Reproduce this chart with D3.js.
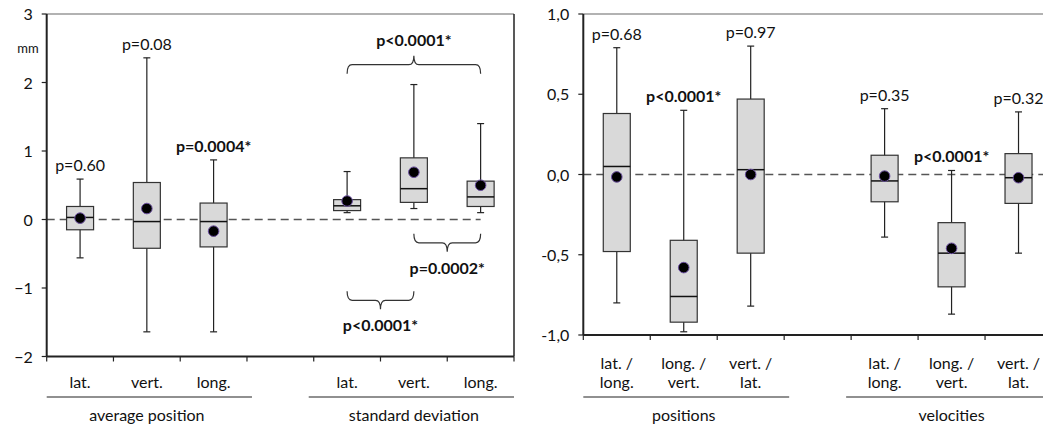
<!DOCTYPE html>
<html>
<head>
<meta charset="utf-8">
<script src="https://cdn.jsdelivr.net/npm/d3@7"></script>
<style>
  body { margin: 0; background: #fff; }
  text { font-family: Lato, "Open Sans", sans-serif; fill: #111; }
</style>
</head>
<body>
<svg width="1043" height="426"></svg>
<script>
// ---- left chart: average position / standard deviation (mm)
var leftCats   = ["lat.", "vert.", "long.", "lat.", "vert.", "long."];
var leftSlots  = [0, 1, 2, 4, 5, 6];
var leftHigh   = [0.59, 2.36, 0.87, 0.70, 1.97, 1.40];
var leftQ3     = [0.19, 0.54, 0.24, 0.29, 0.90, 0.56];
var leftMedian = [0.03, -0.03, -0.03, 0.20, 0.45, 0.33];
var leftQ1     = [-0.15, -0.42, -0.40, 0.13, 0.25, 0.19];
var leftLow    = [-0.56, -1.64, -1.64, 0.10, 0.16, 0.10];
var leftMean   = [0.02, 0.16, -0.17, 0.27, 0.69, 0.50];
var leftP      = ["p=0.60", "p=0.08", "p=0.0004*", "", "", ""];
var leftPBold  = [false, false, true, false, false, false];
var leftGroups = ["average position", "standard deviation"];
var leftTicks  = [-2, -1, 0, 1, 2, 3];

// comparison brackets between standard deviation boxes
var bracketFrom  = [4, 5, 4];
var bracketTo    = [6, 6, 5];
var bracketValue = [2.26, -0.34, -1.18];
var bracketDir   = ["up", "down", "down"];
var bracketLabel = ["p<0.0001*", "p=0.0002*", "p<0.0001*"];

// ---- right chart: correlations of positions / velocities
var rightCats   = [["lat. /", "long."], ["long. /", "vert."], ["vert. /", "lat."],
                   ["lat. /", "long."], ["long. /", "vert."], ["vert. /", "lat."]];
var rightSlots  = [0, 1, 2, 4, 5, 6];
var rightHigh   = [0.79, 0.40, 0.80, 0.41, 0.025, 0.39];
var rightQ3     = [0.38, -0.41, 0.47, 0.12, -0.30, 0.13];
var rightMedian = [0.05, -0.76, 0.03, -0.04, -0.49, -0.02];
var rightQ1     = [-0.48, -0.92, -0.49, -0.17, -0.70, -0.18];
var rightLow    = [-0.80, -0.98, -0.82, -0.39, -0.87, -0.49];
var rightMean   = [-0.015, -0.58, 0.0, -0.01, -0.46, -0.02];
var rightP      = ["p=0.68", "p<0.0001*", "p=0.97", "p=0.35", "p<0.0001*", "p=0.32"];
var rightPBold  = [false, true, false, false, true, false];
var rightGroups = ["positions", "velocities"];
var rightTicks  = [-1, -0.5, 0, 0.5, 1];

var svg = d3.select("svg");
var FS = "16px";

function drawPanel(o) {
  var g = svg.append("g");
  var x = o.x, y = o.y;
  var y0 = y.range()[0], y1 = y.range()[1];
  var xl = x.range()[0], xr = x.range()[1];
  var step = x.step();
  var bw = 27, cap = 7;

  // frame top (and right border if visible)
  g.append("line").attr("x1", xl).attr("x2", Math.min(xr, 1043)).attr("y1", y1).attr("y2", y1)
    .attr("stroke", "#666").attr("stroke-width", 1.2);
  if (xr < 1043) {
    g.append("line").attr("x1", xr).attr("x2", xr).attr("y1", y1).attr("y2", y0)
      .attr("stroke", "#222").attr("stroke-width", 1.5);
  }

  // zero reference line
  g.append("line").attr("x1", xl).attr("x2", o.dashEnd)
    .attr("y1", y(0)).attr("y2", y(0))
    .attr("stroke", "#555").attr("stroke-width", 1.3).attr("stroke-dasharray", "8,5");

  // y axis
  g.append("line").attr("x1", xl).attr("x2", xl).attr("y1", y1).attr("y2", y0)
    .attr("stroke", "#222").attr("stroke-width", 2);
  var yt = g.selectAll(".yt").data(o.ticks).enter().append("g");
  yt.append("line").attr("x1", xl - 5).attr("x2", xl)
    .attr("y1", function(d){ return y(d); }).attr("y2", function(d){ return y(d); })
    .attr("stroke", "#222").attr("stroke-width", 1.2);
  yt.append("text").attr("x", xl - 14).attr("y", function(d){ return y(d) + 6; })
    .attr("text-anchor", "end").style("font-size", FS)
    .text(o.fmt);

  // x axis
  g.append("line").attr("x1", xl).attr("x2", Math.min(xr, 1043)).attr("y1", y0).attr("y2", y0)
    .attr("stroke", "#222").attr("stroke-width", 2);
  g.selectAll(".xt").data(d3.range(8)).enter().append("line")
    .attr("x1", function(d){ return xl + d * step; })
    .attr("x2", function(d){ return xl + d * step; })
    .attr("y1", y0).attr("y2", y0 + 5)
    .attr("stroke", "#222").attr("stroke-width", 1.2);

  var cx = function(i){ return x(o.slots[i]) + step / 2; };
  var idx = d3.range(o.slots.length);

  // whiskers
  var b = g.selectAll(".box").data(idx).enter().append("g");
  b.append("line").attr("x1", cx).attr("x2", cx)
    .attr("y1", function(i){ return y(o.high[i]); }).attr("y2", function(i){ return y(o.low[i]); })
    .attr("stroke", "#222").attr("stroke-width", 1.2);
  b.append("line").attr("x1", function(i){ return cx(i) - cap / 2; }).attr("x2", function(i){ return cx(i) + cap / 2; })
    .attr("y1", function(i){ return y(o.high[i]); }).attr("y2", function(i){ return y(o.high[i]); })
    .attr("stroke", "#222").attr("stroke-width", 1.2);
  b.append("line").attr("x1", function(i){ return cx(i) - cap / 2; }).attr("x2", function(i){ return cx(i) + cap / 2; })
    .attr("y1", function(i){ return y(o.low[i]); }).attr("y2", function(i){ return y(o.low[i]); })
    .attr("stroke", "#222").attr("stroke-width", 1.2);
  // box
  b.append("rect").attr("x", function(i){ return cx(i) - bw / 2; })
    .attr("y", function(i){ return y(o.q3[i]); })
    .attr("width", bw)
    .attr("height", function(i){ return y(o.q1[i]) - y(o.q3[i]); })
    .attr("fill", "#d9d9d9").attr("stroke", "#333").attr("stroke-width", 1.2);
  // median
  b.append("line").attr("x1", function(i){ return cx(i) - bw / 2; }).attr("x2", function(i){ return cx(i) + bw / 2; })
    .attr("y1", function(i){ return y(o.median[i]); }).attr("y2", function(i){ return y(o.median[i]); })
    .attr("stroke", "#111").attr("stroke-width", 1.5);
  // mean
  b.append("circle").attr("cx", cx).attr("cy", function(i){ return y(o.mean[i]); })
    .attr("r", 5.3).attr("fill", "#000").attr("stroke", "#6b4fa0").attr("stroke-width", 1);
  // p values
  b.append("text").attr("x", cx).attr("y", function(i){ return y(o.high[i]) - 8; })
    .attr("text-anchor", "middle").style("font-size", FS)
    .style("font-weight", function(i){ return o.pBold[i] ? "bold" : "normal"; })
    .text(function(i){ return o.p[i]; });

  // category labels
  b.each(function(i) {
    var lines = [].concat(o.cats[i]);
    var t = d3.select(this).append("text").attr("text-anchor", "middle").style("font-size", FS);
    lines.forEach(function(s, k) {
      t.append("tspan").attr("x", cx(i))
        .attr("y", (lines.length > 1 ? y0 + 34 : y0 + 31) + k * 19)
        .text(s);
    });
  });

  // group lines and labels
  o.groups.forEach(function(name, k) {
    var s = k * 4, e = k * 4 + 2;
    var a = x(s) + (k === 0 ? 0 : -5);
    var z = x(e) + step + (k === 0 ? 5 : 0);
    g.append("line").attr("x1", a).attr("x2", Math.min(z, 1043)).attr("y1", 397).attr("y2", 397)
      .attr("stroke", "#222").attr("stroke-width", 1.2);
    g.append("text").attr("x", (x(s) + x(e) + step) / 2).attr("y", 421)
      .attr("text-anchor", "middle").style("font-size", FS).text(name);
  });
  return g;
}

// left panel
var yLeft = d3.scaleLinear().domain([-2, 3]).range([356.5, 14]);
var xLeft = d3.scaleBand().domain(d3.range(7)).range([46.7, 514]);
var gl = drawPanel({
  x: xLeft, y: yLeft, ticks: leftTicks, fmt: d3.format("d"),
  slots: leftSlots, cats: leftCats, high: leftHigh, q3: leftQ3, median: leftMedian,
  q1: leftQ1, low: leftLow, mean: leftMean, p: leftP, pBold: leftPBold,
  groups: leftGroups, dashEnd: xLeft(6) + xLeft.step() / 2
});
gl.append("text").attr("x", 28).attr("y", 53).attr("text-anchor", "middle")
  .style("font-size", "13px").text("mm");

// brackets
var stepL = xLeft.step();
bracketFrom.forEach(function(f, i) {
  var x1 = xLeft(f) + stepL / 2, x2 = xLeft(bracketTo[i]) + stepL / 2, xm = (x1 + x2) / 2;
  var yl = yLeft(bracketValue[i]);
  var s = bracketDir[i] === "up" ? -1 : 1;
  var yEnd = yl - s * 9, yTip = yl + s * 9, r = 5;
  var path = d3.path();
  path.moveTo(x1, yEnd);
  path.quadraticCurveTo(x1, yl, x1 + r, yl);
  path.lineTo(xm - r, yl);
  path.quadraticCurveTo(xm, yl, xm, yTip);
  path.quadraticCurveTo(xm, yl, xm + r, yl);
  path.lineTo(x2 - r, yl);
  path.quadraticCurveTo(x2, yl, x2, yEnd);
  gl.append("path").attr("d", path.toString()).attr("fill", "none")
    .attr("stroke", "#333").attr("stroke-width", 1.2);
  gl.append("text").attr("x", xm).attr("y", yTip + s * 16 + 6)
    .attr("text-anchor", "middle").style("font-size", FS).style("font-weight", "bold")
    .text(bracketLabel[i]);
});

// right panel
var yRight = d3.scaleLinear().domain([-1, 1]).range([335, 14]);
var xRight = d3.scaleBand().domain(d3.range(7)).range([583.3, 1052]);
drawPanel({
  x: xRight, y: yRight, ticks: rightTicks,
  fmt: function(d){ return d3.format(".1f")(d).replace(".", ",").replace("−", "-"); },
  slots: rightSlots, cats: rightCats, high: rightHigh, q3: rightQ3, median: rightMedian,
  q1: rightQ1, low: rightLow, mean: rightMean, p: rightP, pBold: rightPBold,
  groups: rightGroups, dashEnd: 1043
});
</script>
</body>
</html>
